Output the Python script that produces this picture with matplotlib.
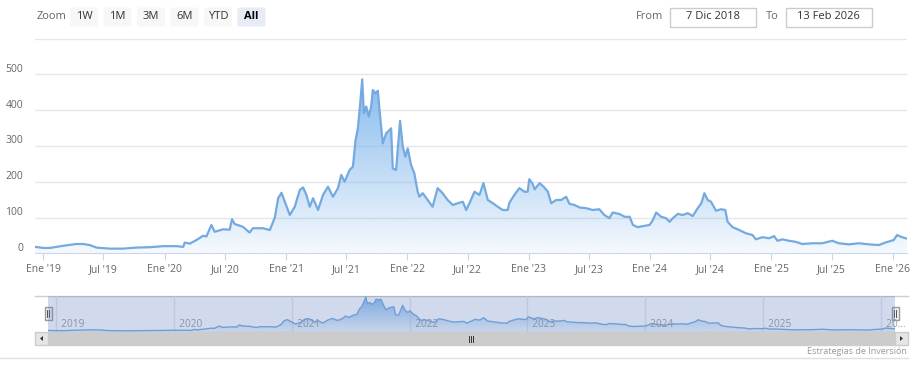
import numpy as np
import matplotlib.pyplot as plt
import matplotlib.dates as mdates
from matplotlib.patches import Rectangle, FancyBboxPatch, Polygon
from matplotlib.transforms import blended_transform_factory, ScaledTranslation

plt.rcParams['font.family'] = ['Open Sans', 'DejaVu Sans']

# price series (approx.)
dates = ["2018-12-07", "2019-01-01", "2019-01-21", "2019-03-02", "2019-04-11", "2019-05-01",
         "2019-05-21", "2019-06-10", "2019-07-20", "2019-08-29", "2019-10-09", "2019-11-18",
         "2019-12-28", "2020-02-06", "2020-02-26", "2020-03-02", "2020-03-17", "2020-04-06",
         "2020-04-26", "2020-05-06", "2020-05-21", "2020-05-31", "2020-06-25", "2020-07-15",
         "2020-07-22", "2020-07-30", "2020-08-24", "2020-09-13", "2020-09-23", "2020-10-23",
         "2020-11-13", "2020-11-28", "2020-12-08", "2020-12-18", "2020-12-28", "2021-01-12",
         "2021-01-27", "2021-02-11", "2021-02-21", "2021-03-03", "2021-03-13", "2021-03-23",
         "2021-04-07", "2021-04-22", "2021-05-07", "2021-05-22", "2021-06-06", "2021-06-16",
         "2021-06-26", "2021-07-11", "2021-07-21", "2021-07-29", "2021-08-05", "2021-08-12",
         "2021-08-18", "2021-08-23", "2021-08-30", "2021-09-07", "2021-09-14", "2021-09-19",
         "2021-09-27", "2021-10-04", "2021-10-11", "2021-10-19", "2021-10-29", "2021-11-13",
         "2021-11-18", "2021-11-28", "2021-12-03", "2021-12-10", "2021-12-18", "2021-12-26",
         "2022-01-02", "2022-01-12", "2022-01-22", "2022-02-01", "2022-02-06", "2022-02-16",
         "2022-03-03", "2022-03-18", "2022-04-02", "2022-04-17", "2022-05-02", "2022-05-18",
         "2022-06-02", "2022-06-17", "2022-06-27", "2022-07-07", "2022-07-22", "2022-08-06",
         "2022-08-18", "2022-08-31", "2022-09-15", "2022-09-30", "2022-10-15", "2022-10-30",
         "2022-11-04", "2022-11-19", "2022-12-04", "2022-12-19", "2022-12-29", "2023-01-03",
         "2023-01-12", "2023-01-19", "2023-02-03", "2023-02-15", "2023-02-28", "2023-03-10",
         "2023-03-25", "2023-04-09", "2023-04-24", "2023-05-04", "2023-05-19", "2023-06-03",
         "2023-06-23", "2023-07-13", "2023-08-02", "2023-08-17", "2023-09-01", "2023-09-11",
         "2023-10-01", "2023-10-17", "2023-11-01", "2023-11-11", "2023-11-26", "2023-12-11",
         "2023-12-31", "2024-01-10", "2024-01-20", "2024-02-04", "2024-02-19", "2024-02-29",
         "2024-03-10", "2024-03-25", "2024-04-09", "2024-04-24", "2024-05-09", "2024-05-24",
         "2024-06-04", "2024-06-13", "2024-06-23", "2024-07-03", "2024-07-18", "2024-08-02",
         "2024-08-15", "2024-08-22", "2024-09-06", "2024-09-26", "2024-10-16", "2024-11-05",
         "2024-11-15", "2024-12-05", "2024-12-25", "2025-01-09", "2025-01-19", "2025-02-03",
         "2025-02-23", "2025-03-15", "2025-04-04", "2025-05-04", "2025-06-03", "2025-07-03",
         "2025-07-23", "2025-08-22", "2025-09-21", "2025-10-21", "2025-11-20", "2025-12-10",
         "2026-01-04", "2026-01-14", "2026-01-29", "2026-02-13"]
values = [18, 15, 15, 21, 26, 26,
          23, 16, 13, 13, 16, 17,
          20, 20, 18, 30, 27, 37,
          49, 47, 79, 60, 67, 66,
          95, 82, 74, 58, 70, 70,
          65, 100, 154, 169, 144, 107,
          130, 177, 184, 163, 130, 154,
          121, 163, 186, 158, 182, 219,
          200, 233, 242, 316, 349, 419,
          486, 391, 410, 382, 410, 456,
          447, 454, 382, 307, 335, 349,
          237, 233, 289, 370, 298, 270,
          293, 247, 223, 172, 158, 168,
          149, 130, 182, 168, 149, 135,
          140, 144, 121, 140, 172, 163,
          196, 149, 140, 130, 121, 121,
          141, 163, 182, 172, 172, 207,
          196, 179, 196, 186, 172, 140,
          149, 149, 158, 138, 135, 128,
          126, 121, 123, 107, 98, 114,
          110, 102, 102, 79, 73, 76,
          79, 93, 114, 102, 98, 88,
          98, 110, 107, 112, 104, 126,
          140, 168, 149, 144, 119, 123,
          121, 88, 73, 65, 56, 51,
          39, 45, 42, 48, 35, 39,
          35, 32, 26, 28, 28, 35,
          28, 25, 28, 25, 23, 30,
          37, 51, 45, 41]

x_tick_dates = ["2019-01-01", "2019-07-01", "2020-01-01", "2020-07-01", "2021-01-01",
                "2021-07-01", "2022-01-01", "2022-07-01", "2023-01-01", "2023-07-01",
                "2024-01-01", "2024-07-01", "2025-01-01", "2025-07-01", "2026-01-01"]
x_tick_labels = ["Ene '19", "Jul '19", "Ene '20", "Jul '20", "Ene '21", "Jul '21", "Ene '22",
                 "Jul '22", "Ene '23", "Jul '23", "Ene '24", "Jul '24", "Ene '25", "Jul '25",
                 "Ene '26"]
y_ticks = [0, 100, 200, 300, 400, 500]
nav_year_dates = ["2019-01-01", "2020-01-01", "2021-01-01", "2022-01-01", "2023-01-01",
                  "2024-01-01", "2025-01-01", "2026-01-01"]
nav_year_labels = ["2019", "2020", "2021", "2022", "2023", "2024", "2025", "20…"]
zoom_buttons = ["1W", "1M", "3M", "6M", "YTD", "All"]
date_from = "7 Dic 2018"
date_to = "13 Feb 2026"
credits = "Estrategias de Inversión"

W, H = 915, 371
fig = plt.figure(figsize=(W / 100, H / 100), dpi=100)


def box(x0, y0, x1, y1):
    return [x0 / W, 1 - y1 / H, (x1 - x0) / W, (y1 - y0) / H]


x = mdates.date2num(np.array(dates, dtype='datetime64[D]'))
y = np.array(values, dtype=float)
x0, x1 = x[0], x[-1]
base = np.array([124, 181, 236]) / 255
line_col = '#74aadf'


def gradient_area(a, xs, ys, top, lw):
    grad = np.linspace(1, 0, 256)
    rgba = np.zeros((256, 1, 4))
    rgba[..., :3] = base
    rgba[..., 3] = (0.08 + 0.84 * grad)[:, None]
    im = a.imshow(rgba, extent=[xs[0], xs[-1], 0, top], aspect='auto',
                  origin='upper', zorder=2, interpolation='bilinear')
    poly = a.fill_between(xs, ys, 0, color='none', lw=0)
    im.set_clip_path(poly.get_paths()[0], transform=a.transData)
    a.plot(xs, ys, color=line_col, lw=lw, zorder=3, solid_joinstyle='round')


# UI layer (buttons, inputs, scrollbar)
ui = fig.add_axes([0, 0, 1, 1], zorder=0)
ui.set_xlim(0, W)
ui.set_ylim(H, 0)
ui.axis('off')

ui.text(37, 16.5, "Zoom", fontsize=8, color='#666666', va='center', ha='left')
bx = 70
for lab in zoom_buttons:
    sel = lab == "All"
    ui.add_patch(FancyBboxPatch((bx, 7.5), 28, 19, boxstyle="round,pad=0,rounding_size=2",
                                fc='#e6ebf5' if sel else '#f7f7f7', ec='none'))
    ui.text(bx + 14, 16.5, lab, fontsize=8, color='#000000' if sel else '#333333',
            fontweight='bold' if sel else 'normal', ha='center', va='center')
    bx += 33.5

ui.text(663, 16.5, "From", fontsize=8, color='#666666', ha='right', va='center')
ui.add_patch(Rectangle((670, 7.5), 85.5, 19, fc='white', ec='#cccccc', lw=1))
ui.text(712.8, 16.5, date_from, fontsize=8, color='#333333', ha='center', va='center')
ui.text(772, 16.5, "To", fontsize=8, color='#666666', ha='center', va='center')
ui.add_patch(Rectangle((786, 7.5), 85.5, 19, fc='white', ec='#cccccc', lw=1))
ui.text(828.8, 16.5, date_to, fontsize=8, color='#333333', ha='center', va='center')

# main chart
ax = fig.add_axes(box(35, 38.5, 907, 253.3), zorder=2)
ax.patch.set_alpha(0)
gradient_area(ax, x, y, y.max(), 1.6)
for v in y_ticks[1:] + [600]:
    ax.axhline(v, color='#e6e6e6', lw=1, zorder=1)
ax.set_xlim(x0, x1)
ax.set_ylim(0, 600)
for s in ['top', 'right', 'left']:
    ax.spines[s].set_visible(False)
ax.spines['bottom'].set_color('#ccd6eb')
ax.set_xticks(mdates.date2num(np.array(x_tick_dates, dtype='datetime64[D]')))
ax.set_xticklabels(x_tick_labels)
ax.tick_params(axis='x', length=5, color='#ccd6eb', labelcolor='#666666',
               labelsize=7.5, pad=3)
ax.set_yticks([])
ylab_tr = blended_transform_factory(ax.transAxes, ax.transData) + \
    ScaledTranslation(-0.12, 0.05, fig.dpi_scale_trans)
for v in y_ticks:
    ax.text(0, v, str(v), transform=ylab_tr, ha='right', va='center',
            fontsize=7.5, color='#666666')

# navigator
nav = fig.add_axes(box(48, 296, 895, 331.7), zorder=2)
nav.patch.set_alpha(0)
ny = mdates.date2num(np.array(nav_year_dates, dtype='datetime64[D]'))
for xv, lab in zip(ny, nav_year_labels):
    nav.axvline(xv, color='#e6e6e6', lw=1, zorder=1)
    nav.text(xv, 0.21, "  " + lab, transform=blended_transform_factory(nav.transData, nav.transAxes),
             fontsize=7.3, color='#999999', ha='left', va='center', zorder=4)
gradient_area(nav, x, y, y.max(), 1.0)
nav.add_patch(Rectangle((0, 0), 1, 1, transform=nav.transAxes,
                        fc=(102 / 255, 133 / 255, 194 / 255, 0.3), ec='none', zorder=5))
nav.set_xlim(x0, x1)
nav.set_ylim(0, 500)
nav.axis('off')

ui.plot([35, 908], [296, 296], color='#cccccc', lw=1)
for hx in (48, 895):
    ui.add_patch(Rectangle((hx - 3.5, 306.5), 7, 13.5, fc='#f2f2f2', ec='#999999', lw=1, zorder=6))
    ui.plot([hx - 1, hx - 1], [309.5, 317], color='#333333', lw=0.6, zorder=7)
    ui.plot([hx + 1, hx + 1], [309.5, 317], color='#333333', lw=0.6, zorder=7)

# scrollbar
ui.add_patch(Rectangle((48, 331.7), 847, 13.6, fc='#cccccc', ec='#cccccc', lw=1))
ui.add_patch(Rectangle((35, 331.7), 13, 13.6, fc='#e6e6e6', ec='#cccccc', lw=1))
ui.add_patch(Rectangle((895, 331.7), 13, 13.6, fc='#e6e6e6', ec='#cccccc', lw=1))
ui.add_patch(Polygon([[40, 338.5], [43, 336], [43, 341]], closed=True, fc='#333333', ec='none'))
ui.add_patch(Polygon([[903, 338.5], [900, 336], [900, 341]], closed=True, fc='#333333', ec='none'))
for gx in (469, 471, 473):
    ui.plot([gx, gx], [335.5, 341.5], color='#333333', lw=0.7)

ui.text(907, 351, credits, fontsize=6.5, color='#999999', ha='right', va='center')
ui.plot([0, 908], [358, 358], color='#e0e0e0', lw=1)

fig.savefig('out.png', dpi=100)
